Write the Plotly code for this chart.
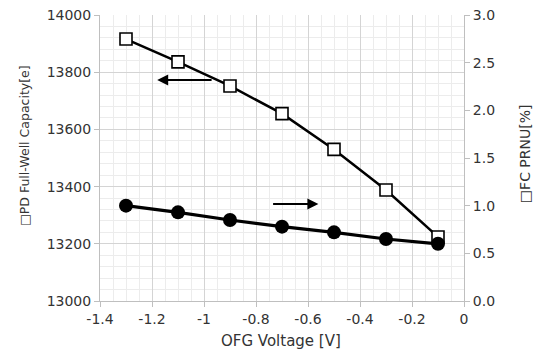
import plotly.graph_objects as go

# Data
ofg_voltage = [-1.3, -1.1, -0.9, -0.7, -0.5, -0.3, -0.1]
full_well_capacity = [13916, 13836, 13752, 13655, 13530, 13388, 13224]
fc_prnu = [1.00, 0.93, 0.85, 0.78, 0.72, 0.65, 0.60]

x_tick_vals = [-1.4, -1.2, -1.0, -0.8, -0.6, -0.4, -0.2, 0]
x_tick_text = ["-1.4", "-1.2", "-1", "-0.8", "-0.6", "-0.4", "-0.2", "0"]

left_title = "\u25a1PD Full-Well Capacity[e]"
right_title = "\u25a1FC PRNU[%]"
x_title = "OFG Voltage [V]"

FONT = "DejaVu Sans"
TXT = "#333333"

fig = go.Figure()
fig.add_trace(go.Scatter(
    x=ofg_voltage, y=full_well_capacity, mode="lines+markers",
    line=dict(color="black", width=2.5),
    marker=dict(symbol="square", size=12, color="white",
                line=dict(color="black", width=1.6)),
    yaxis="y", showlegend=False, cliponaxis=False))
fig.add_trace(go.Scatter(
    x=ofg_voltage, y=fc_prnu, mode="lines+markers",
    line=dict(color="black", width=3.2),
    marker=dict(symbol="circle", size=14, color="black"),
    yaxis="y2", showlegend=False, cliponaxis=False))

# arrows pointing to the respective axes
fig.add_annotation(x=-1.18, y=13773, ax=-0.965, ay=13773, xref="x", yref="y",
                   axref="x", ayref="y", text="", showarrow=True,
                   arrowhead=2, arrowsize=1.1, arrowwidth=2, arrowcolor="black")
fig.add_annotation(x=-0.56, y=13339, ax=-0.74, ay=13339, xref="x", yref="y",
                   axref="x", ayref="y", text="", showarrow=True,
                   arrowhead=2, arrowsize=1.1, arrowwidth=2, arrowcolor="black")

# axis titles as annotations for exact placement
fig.add_annotation(text=left_title, xref="paper", yref="paper", x=-0.206, y=0.542,
                   textangle=-90, showarrow=False,
                   font=dict(family=FONT, size=12.5, color=TXT),
                   xanchor="center", yanchor="middle")
fig.add_annotation(text=right_title, xref="paper", yref="paper", x=1.168, y=0.514,
                   textangle=-90, showarrow=False,
                   font=dict(family=FONT, size=14, color=TXT),
                   xanchor="center", yanchor="middle")
fig.add_annotation(text=x_title, xref="paper", yref="paper", x=0.497, y=-0.14,
                   showarrow=False,
                   font=dict(family=FONT, size=15, color=TXT),
                   xanchor="center", yanchor="middle")

fig.update_layout(
    width=536, height=360,
    margin=dict(l=100, r=72, t=15, b=59, autoexpand=False),
    paper_bgcolor="white", plot_bgcolor="white",
    font=dict(family=FONT, size=14, color=TXT),
    xaxis=dict(
        range=[-1.4, 0], tickvals=x_tick_vals, ticktext=x_tick_text,
        showgrid=True, gridcolor="#d4d4d4", gridwidth=1,
        minor=dict(dtick=0.05, tick0=0, showgrid=True, gridcolor="#ececec", gridwidth=1),
        showline=True, linecolor="#bfbfbf", linewidth=1,
        ticks="outside", ticklen=5, tickcolor="#bfbfbf",
        zeroline=False, automargin=False,
        tickfont=dict(family=FONT, size=14, color=TXT),
    ),
    yaxis=dict(
        range=[13000, 14000], dtick=200, tickformat="d",
        showgrid=True, gridcolor="#d4d4d4", gridwidth=1,
        minor=dict(dtick=40, showgrid=True, gridcolor="#ececec", gridwidth=1),
        showline=True, linecolor="#bfbfbf", linewidth=1,
        ticks="outside", ticklen=5, tickcolor="#bfbfbf",
        zeroline=False, automargin=False,
        tickfont=dict(family=FONT, size=14, color=TXT),
    ),
    yaxis2=dict(
        range=[0, 3.0], dtick=0.5, tickformat=".1f",
        overlaying="y", side="right",
        showgrid=False, zeroline=False, automargin=False,
        showline=True, linecolor="#bfbfbf", linewidth=1,
        ticks="outside", ticklen=5, tickcolor="#bfbfbf",
        tickfont=dict(family=FONT, size=14, color=TXT),
    ),
)

# remove the default page margin so the 536x360 figure fills the window exactly
fig.write_html(
    "out.html",
    config={"displayModeBar": False, "staticPlot": True},
    post_script="document.body.style.margin='0';document.body.style.overflow='hidden';",
)
